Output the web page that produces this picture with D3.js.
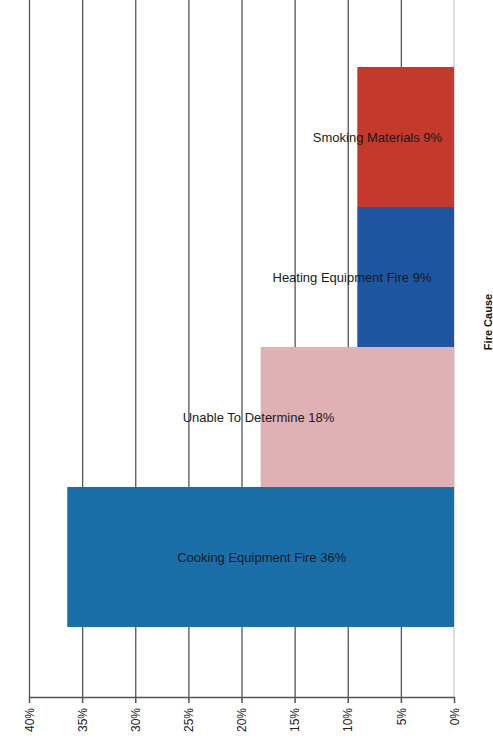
<!DOCTYPE html>
<html lang="en">
<head>
    <meta charset="UTF-8">
    <title>Fire Cause</title>
    <style>
        body {
            margin: 0;
            padding: 0;
            background-color: #fff;
            font-family: "Liberation Sans", Arial, sans-serif;
        }
        .grid line {
            stroke: #555;
            stroke-width: 1.3;
        }
        .grid path { display: none; }
        .axis path, .axis line {
            fill: none;
            stroke: #555;
            stroke-width: 1.5;
        }
        .axis text {
            font-size: 12px;
            fill: #222;
        }
        .bar-label {
            font-size: 13px;
            fill: #1a1a1a;
        }
    </style>
</head>
<body>
<div id="chart"></div>
<script src="https://d3js.org/d3.v7.min.js"></script>
<script>
    // Data (share of fires, %)
    const causes = ["Smoking Materials", "Heating Equipment Fire", "Unable To Determine", "Cooking Equipment Fire"];
    const shares = [9.1, 9.1, 18.2, 36.4];
    const shownPct = [9, 9, 18, 36];
    const labelAt = [7.2, 9.6, 18.4, 18.1];   // label centre, in % units
    const barColors = ["#c4392b", "#1e56a0", "#dfb1b5", "#1a6fa8"];
    const ticks = [0, 5, 10, 15, 20, 25, 30, 35, 40];

    const W = 493, H = 742;
    const plotLeft = 29, plotRight = 454, plotTop = -3, plotBottom = 697;

    const svg = d3.select("#chart")
        .append("svg")
        .attr("width", W)
        .attr("height", H);

    // value axis runs right-to-left
    const x = d3.scaleLinear()
        .domain([0, 40])
        .range([plotRight, plotLeft]);

    const y = d3.scaleBand()
        .domain(causes)
        .range([plotTop, plotBottom])
        .paddingInner(0)
        .paddingOuter(0.5);

    // vertical gridlines
    svg.append("g")
        .attr("class", "grid")
        .attr("transform", `translate(0,${plotBottom})`)
        .call(d3.axisBottom(x).tickValues(ticks.filter(t => t > 0))
            .tickSize(-plotBottom)
            .tickFormat(""));

    svg.append("line")
        .attr("x1", x(0)).attr("x2", x(0))
        .attr("y1", 0).attr("y2", plotBottom)
        .attr("stroke", "#ccc")
        .attr("stroke-width", 1.3);

    // bars
    svg.selectAll("rect.bar")
        .data(causes)
        .enter()
        .append("rect")
        .attr("class", "bar")
        .attr("x", (d, i) => x(shares[i]))
        .attr("y", d => y(d))
        .attr("width", (d, i) => x(0) - x(shares[i]))
        .attr("height", y.bandwidth())
        .attr("fill", (d, i) => barColors[i]);

    // data labels
    svg.selectAll("text.bar-label")
        .data(causes)
        .enter()
        .append("text")
        .attr("class", "bar-label")
        .attr("x", (d, i) => x(labelAt[i]))
        .attr("y", d => y(d) + y.bandwidth() / 2)
        .attr("dy", "0.35em")
        .attr("text-anchor", "middle")
        .text((d, i) => `${d} ${shownPct[i]}%`);

    // bottom axis with rotated labels
    const axis = svg.append("g")
        .attr("class", "axis")
        .attr("transform", `translate(0,${plotBottom})`)
        .call(d3.axisBottom(x).tickValues(ticks)
            .tickSize(6)
            .tickSizeOuter(0)
            .tickFormat(d => d + "%"));

    axis.selectAll("text")
        .attr("transform", "rotate(-90)")
        .attr("x", -11)
        .attr("y", 0)
        .attr("dy", "0.35em")
        .style("text-anchor", "end");

    // category axis title
    svg.append("text")
        .attr("transform", "translate(488,322) rotate(-90)")
        .attr("text-anchor", "middle")
        .attr("dy", "0.35em")
        .style("font-size", "11px")
        .style("font-weight", "bold")
        .style("fill", "#111")
        .text("Fire Cause");
</script>
</body>
</html>
